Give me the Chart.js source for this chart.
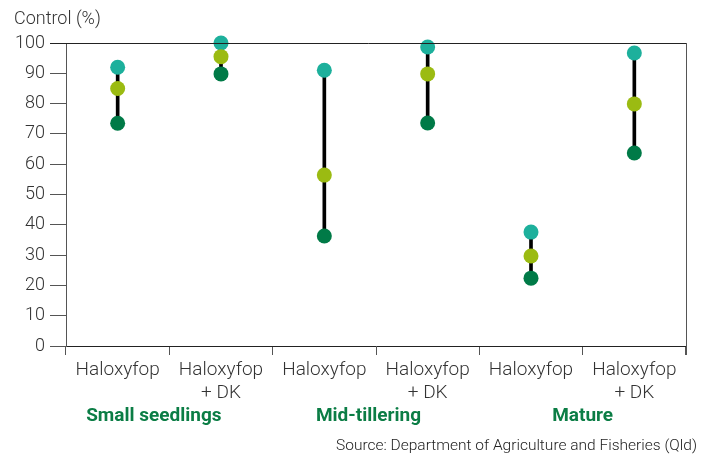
<!DOCTYPE html>
<html>
<head>
<meta charset="utf-8">
<script src="https://cdn.jsdelivr.net/npm/chart.js@4/dist/chart.umd.min.js"></script>
<style>
html,body{margin:0;padding:0;background:#fff;}
#wrap{width:702px;height:457px;position:relative;}
</style>
</head>
<body>
<div id="wrap"><canvas id="c" width="702" height="457"></canvas></div>
<script>
const categories = [['Haloxyfop'], ['Haloxyfop', '+ DK'], ['Haloxyfop'], ['Haloxyfop', '+ DK'], ['Haloxyfop'], ['Haloxyfop', '+ DK']];
const groups = ['Small seedlings', 'Mid-tillering', 'Mature'];
const highSeries = [92, 100, 91, 98.7, 37.6, 96.7];
const midSeries = [85, 95.5, 56.4, 89.8, 29.7, 79.9];
const lowSeries = [73.5, 89.8, 36.3, 73.6, 22.4, 63.7];
const yTicks = [0, 10, 20, 30, 40, 50, 60, 70, 80, 90, 100];
const yTitle = 'Control (%)';
const sourceText = 'Source: Department of Agriculture and Fisheries (Qld)';

const FONT = 'Roboto, "Liberation Sans", sans-serif';
const AXIS = '#555';
const DARK = '#222';
const groupShift = [-15.5, -7.5, 0];

const extras = {
  id: 'extras',
  afterDraw(chart) {
    const ctx = chart.ctx;
    const x = chart.scales.x;
    const a = chart.chartArea;
    ctx.save();
    ctx.strokeStyle = DARK;
    ctx.lineWidth = 1;
    ctx.beginPath();
    ctx.moveTo(a.left - 16, a.top + 0.5);
    ctx.lineTo(a.right + 0.5, a.top + 0.5);
    ctx.stroke();
    ctx.strokeStyle = AXIS;
    ctx.beginPath();
    ctx.moveTo(a.right + 0.5, a.top);
    ctx.lineTo(a.right + 0.5, a.bottom + 9);
    ctx.stroke();
    ctx.fillStyle = '#333';
    ctx.font = '300 18px ' + FONT;
    ctx.textAlign = 'left';
    ctx.textBaseline = 'middle';
    ctx.fillText(yTitle, 14, 19);
    ctx.fillStyle = '#0b7d45';
    ctx.font = 'bold 19px ' + FONT;
    ctx.textAlign = 'center';
    groups.forEach((g, i) => {
      const px = x.getPixelForValue(2 * i + 0.5);
      ctx.fillText(g, px + groupShift[i], 416);
    });
    ctx.fillStyle = '#222';
    ctx.font = '300 15.5px ' + FONT;
    ctx.textAlign = 'right';
    ctx.fillText(sourceText, 697, 446);
    ctx.restore();
  }
};

const pointDs = (data, color) => ({
  type: 'line', data, showLine: false, clip: false,
  pointRadius: 7.5, pointBorderWidth: 0, pointBackgroundColor: color, order: 1
});

new Chart(document.getElementById('c'), {
  data: {
    labels: categories,
    datasets: [
      {
        type: 'bar',
        data: lowSeries.map((v, i) => [Math.min(v, highSeries[i]), Math.max(v, highSeries[i])]),
        backgroundColor: '#000',
        barThickness: 3,
        order: 10
      },
      pointDs(lowSeries, '#007a47'),
      pointDs(midSeries, '#9bbb12'),
      pointDs(highSeries, '#1db09c')
    ]
  },
  options: {
    responsive: false,
    animation: false,
    layout: { padding: { left: 0, right: 16, top: 43, bottom: 0 } },
    plugins: { legend: { display: false }, tooltip: { enabled: false } },
    scales: {
      x: {
        type: 'category',
        offset: true,
        grid: { offset: true, drawOnChartArea: false, tickLength: 9, color: AXIS, tickColor: AXIS },
        border: { color: DARK, width: 1 },
        ticks: { color: '#333', font: { family: FONT, size: 19, weight: '300', lineHeight: 1.25 }, padding: 3, maxRotation: 0, autoSkip: false },
        afterFit(s) { s.height = 111; }
      },
      y: {
        min: 0, max: 100,
        afterBuildTicks(s) { s.ticks = yTicks.map(v => ({ value: v })); },
        grid: { drawOnChartArea: false, tickLength: 16, color: AXIS, tickColor: AXIS },
        border: { color: AXIS, width: 1 },
        ticks: { color: '#333', font: { family: FONT, size: 18, weight: '300' }, padding: 5 },
        afterFit(s) { s.width = 66; }
      }
    }
  },
  plugins: [extras]
});
</script>
</body>
</html>
